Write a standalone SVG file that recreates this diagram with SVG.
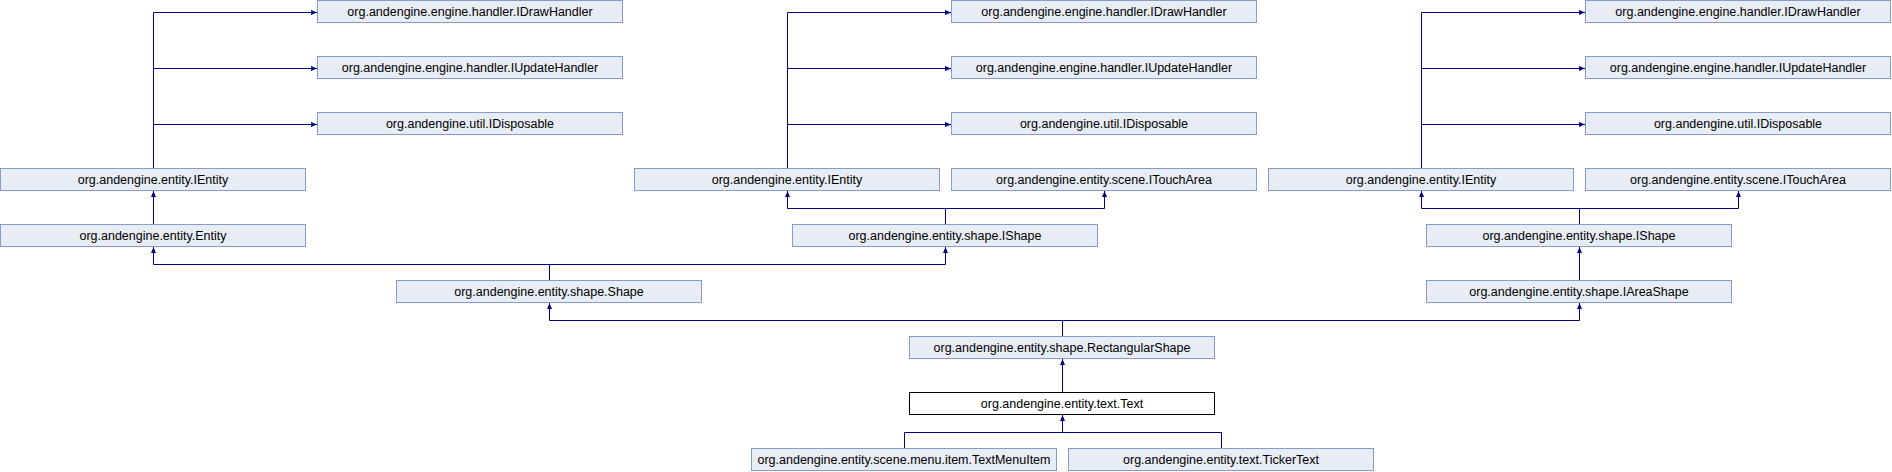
<svg xmlns="http://www.w3.org/2000/svg" width="1892" height="472" viewBox="0 0 1892 472">
<style>
.n rect{fill:#E8ECF4;stroke:#849BCB;stroke-width:1}
.n.cur rect{fill:#FFFFFF;stroke:#000000}
.n text{font-family:"Liberation Sans",Arial,sans-serif;font-size:12.5px;fill:#000000;text-anchor:middle}
.e path{fill:none;stroke:#000088;stroke-width:1;marker-end:url(#ah)}
.e path.nm{marker-end:none}
</style>
<defs>
<marker id="ah" markerUnits="userSpaceOnUse" viewBox="0 0 6 6" markerWidth="6" markerHeight="6" refX="6" refY="3" orient="auto">
<path d="M0,0.5 L6,3 L0,5.5 z" fill="#000088"/>
</marker>
</defs>
<rect width="1892" height="472" fill="#FFFFFF"/>
<g id="connectors" class="e">
<path d="M153.5,168 V12.5 H317"/>
<path d="M153.5,68.5 H317"/>
<path d="M153.5,124.5 H317"/>
<path d="M153.5,224 V191"/>
<path d="M549.5,280 V264.5 H153.5 V247"/>
<path d="M549.5,264.5 H945.5 V247"/>
<path d="M787.5,168 V12.5 H951"/>
<path d="M787.5,68.5 H951"/>
<path d="M787.5,124.5 H951"/>
<path d="M945.5,224 V208.5 H787.5 V191"/>
<path d="M945.5,208.5 H1104.5 V191"/>
<path d="M1421.5,168 V12.5 H1585"/>
<path d="M1421.5,68.5 H1585"/>
<path d="M1421.5,124.5 H1585"/>
<path d="M1579.5,224 V208.5 H1421.5 V191"/>
<path d="M1579.5,208.5 H1738.5 V191"/>
<path d="M1579.5,280 V247"/>
<path d="M1062.5,336 V320.5 H549.5 V303"/>
<path d="M1062.5,320.5 H1579.5 V303"/>
<path d="M1062.5,392 V359"/>
<path d="M904.5,448 V432.5 H1062.5 V415"/>
<path class="nm" d="M1221.5,448 V432.5 H1062.5"/>
</g>
<g id="IDrawHandler_L" class="n"><rect x="317.5" y="0.5" width="305" height="22"/><text x="470" y="16">org.andengine.engine.handler.IDrawHandler</text></g>
<g id="IUpdateHandler_L" class="n"><rect x="317.5" y="56.5" width="305" height="22"/><text x="470" y="72">org.andengine.engine.handler.IUpdateHandler</text></g>
<g id="IDisposable_L" class="n"><rect x="317.5" y="112.5" width="305" height="22"/><text x="470" y="128">org.andengine.util.IDisposable</text></g>
<g id="IEntity_L" class="n"><rect x="0.5" y="168.5" width="305" height="22"/><text x="153" y="184">org.andengine.entity.IEntity</text></g>
<g id="Entity" class="n"><rect x="0.5" y="224.5" width="305" height="22"/><text x="153" y="240">org.andengine.entity.Entity</text></g>
<g id="Shape" class="n"><rect x="396.5" y="280.5" width="305" height="22"/><text x="549" y="296">org.andengine.entity.shape.Shape</text></g>
<g id="IDrawHandler_M" class="n"><rect x="951.5" y="0.5" width="305" height="22"/><text x="1104" y="16">org.andengine.engine.handler.IDrawHandler</text></g>
<g id="IUpdateHandler_M" class="n"><rect x="951.5" y="56.5" width="305" height="22"/><text x="1104" y="72">org.andengine.engine.handler.IUpdateHandler</text></g>
<g id="IDisposable_M" class="n"><rect x="951.5" y="112.5" width="305" height="22"/><text x="1104" y="128">org.andengine.util.IDisposable</text></g>
<g id="IEntity_M" class="n"><rect x="634.5" y="168.5" width="305" height="22"/><text x="787" y="184">org.andengine.entity.IEntity</text></g>
<g id="ITouchArea_M" class="n"><rect x="951.5" y="168.5" width="305" height="22"/><text x="1104" y="184">org.andengine.entity.scene.ITouchArea</text></g>
<g id="IShape_M" class="n"><rect x="792.5" y="224.5" width="305" height="22"/><text x="945" y="240">org.andengine.entity.shape.IShape</text></g>
<g id="IDrawHandler_R" class="n"><rect x="1585.5" y="0.5" width="305" height="22"/><text x="1738" y="16">org.andengine.engine.handler.IDrawHandler</text></g>
<g id="IUpdateHandler_R" class="n"><rect x="1585.5" y="56.5" width="305" height="22"/><text x="1738" y="72">org.andengine.engine.handler.IUpdateHandler</text></g>
<g id="IDisposable_R" class="n"><rect x="1585.5" y="112.5" width="305" height="22"/><text x="1738" y="128">org.andengine.util.IDisposable</text></g>
<g id="IEntity_R" class="n"><rect x="1268.5" y="168.5" width="305" height="22"/><text x="1421" y="184">org.andengine.entity.IEntity</text></g>
<g id="ITouchArea_R" class="n"><rect x="1585.5" y="168.5" width="305" height="22"/><text x="1738" y="184">org.andengine.entity.scene.ITouchArea</text></g>
<g id="IShape_R" class="n"><rect x="1426.5" y="224.5" width="305" height="22"/><text x="1579" y="240">org.andengine.entity.shape.IShape</text></g>
<g id="IAreaShape" class="n"><rect x="1426.5" y="280.5" width="305" height="22"/><text x="1579" y="296">org.andengine.entity.shape.IAreaShape</text></g>
<g id="RectangularShape" class="n"><rect x="909.5" y="336.5" width="305" height="22"/><text x="1062" y="352">org.andengine.entity.shape.RectangularShape</text></g>
<g id="Text" class="n cur"><rect x="909.5" y="392.5" width="305" height="22"/><text x="1062" y="408">org.andengine.entity.text.Text</text></g>
<g id="TextMenuItem" class="n"><rect x="751.5" y="448.5" width="305" height="22"/><text x="904" y="464">org.andengine.entity.scene.menu.item.TextMenuItem</text></g>
<g id="TickerText" class="n"><rect x="1068.5" y="448.5" width="305" height="22"/><text x="1221" y="464">org.andengine.entity.text.TickerText</text></g>
</svg>
